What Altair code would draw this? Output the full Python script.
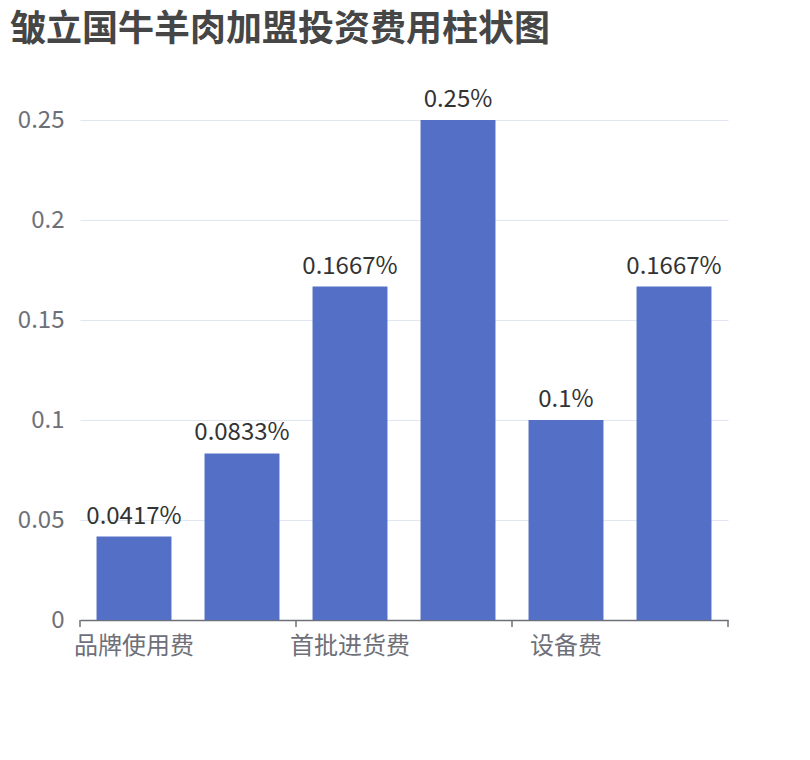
import altair as alt
import pandas as pd

categories = ["品牌使用费", "保证金", "首批进货费", "装修费", "设备费", "其他费用"]
values = [0.0417, 0.0833, 0.1667, 0.25, 0.1, 0.1667]
shown_labels = ["品牌使用费", "首批进货费", "设备费"]
y_ticks = [0, 0.05, 0.1, 0.15, 0.2, 0.25]

FONT = "Noto Sans CJK SC"

df = pd.DataFrame({"cat": categories, "value": values})
tick_start = pd.DataFrame({"cat": [categories[0], categories[2], categories[4]]})
tick_end = pd.DataFrame({"cat": [categories[-1]]})

xscale = alt.Scale(domain=categories, paddingInner=0.306, paddingOuter=0.153)
xscale_full = alt.Scale(domain=categories, paddingInner=0, paddingOuter=0)
yscale = alt.Scale(domain=[0, 0.25], nice=False)

base = alt.Chart(df)

bars = base.mark_bar(color="#5470C6").encode(
    x=alt.X("cat:N", scale=xscale, sort=categories, title=None,
            axis=alt.Axis(values=shown_labels, ticks=False, labelAngle=0,
                          labelFont=FONT, labelFontSize=24, labelColor="#6E7079",
                          labelPadding=14, domainColor="#6E7079", domainWidth=1.5,
                          grid=False)),
    y=alt.Y("value:Q", scale=yscale, title=None,
            axis=alt.Axis(values=y_ticks, format="~g", ticks=False, domain=False,
                          labelFont=FONT, labelFontSize=24, labelColor="#6E7079",
                          labelPadding=16, gridColor="#E0E6F1", gridWidth=1.2)),
)

labels = base.transform_calculate(
    lab="format(datum.value, '~g') + '%'"
).mark_text(font=FONT, fontSize=24, color="#333333", baseline="alphabetic", dy=-13).encode(
    x=alt.X("cat:N", scale=xscale, sort=categories, axis=None),
    y=alt.Y("value:Q", scale=yscale),
    text="lab:N",
)

ticks1 = alt.Chart(tick_start).mark_rule(color="#6E7079", strokeWidth=1.5).encode(
    x=alt.X("cat:N", scale=xscale_full, sort=categories, bandPosition=0, axis=None),
    y=alt.value(500),
    y2=alt.value(507),
)
ticks2 = alt.Chart(tick_end).mark_rule(color="#6E7079", strokeWidth=1.5).encode(
    x=alt.X("cat:N", scale=xscale_full, sort=categories, bandPosition=1, axis=None),
    y=alt.value(500),
    y2=alt.value(507),
)

chart = alt.layer(bars, labels, ticks1, ticks2).resolve_scale(x="independent").properties(
    width=648,
    height=500,
    autosize=alt.AutoSizeParams(type="none"),
    padding={"left": 72, "top": 112, "right": 74, "bottom": 130},
    title=alt.TitleParams(
        "皱立国牛羊肉加盟投资费用柱状图",
        anchor="start", frame="group", font=FONT, fontSize=36, fontWeight="bold",
        color="#464646", dx=-70, offset=39,
    ),
).configure_view(stroke=None)

chart.save("out.html", embed_options={"renderer": "svg", "actions": False})
